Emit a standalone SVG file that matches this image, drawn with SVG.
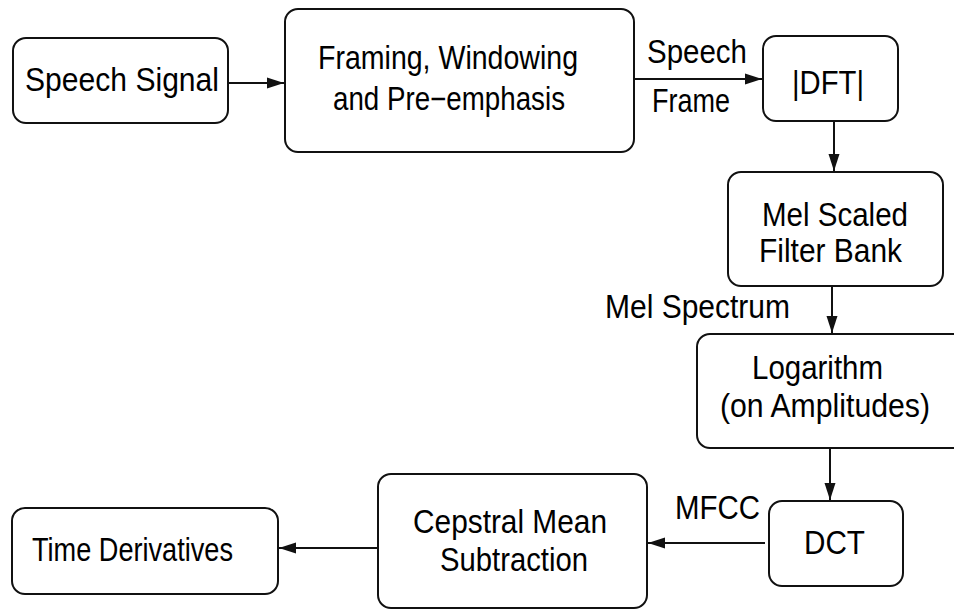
<svg xmlns="http://www.w3.org/2000/svg" width="954" height="612" viewBox="0 0 954 612">
  <style>
    .box { fill: #ffffff; stroke: #111111; stroke-width: 2; }
    .lbl { font-family: "Liberation Sans", Arial, Helvetica, sans-serif; font-size: 33px; fill: #000000; }
    .wire { fill: none; stroke: #111111; stroke-width: 2; }
  </style>
  <defs>
    <marker id="arrow" markerUnits="userSpaceOnUse" markerWidth="18" markerHeight="12" refX="17" refY="6" orient="auto">
      <path d="M0,0.5 L17,6 L0,11.5 Z" fill="#111111"/>
    </marker>
  </defs>
  <rect width="954" height="612" fill="#ffffff"/>

  <g id="speech-signal">
    <rect class="box" x="13" y="38" width="215" height="85" rx="13"/>
    <text class="lbl" x="25" y="91" textLength="194" lengthAdjust="spacingAndGlyphs">Speech Signal</text>
  </g>

  <g id="framing">
    <rect class="box" x="285" y="9" width="349" height="143" rx="13"/>
    <text class="lbl" x="318" y="69" textLength="260" lengthAdjust="spacingAndGlyphs">Framing, Windowing</text>
    <text class="lbl" x="333" y="110" textLength="232" lengthAdjust="spacingAndGlyphs">and Pre−emphasis</text>
  </g>

  <g id="dft">
    <rect class="box" x="763" y="36" width="135" height="85" rx="13"/>
    <text class="lbl" x="792" y="94" textLength="72" lengthAdjust="spacingAndGlyphs">|DFT|</text>
  </g>

  <g id="mel-filter-bank">
    <rect class="box" x="728" y="172" width="215" height="114" rx="13"/>
    <text class="lbl" x="762" y="226" textLength="146" lengthAdjust="spacingAndGlyphs">Mel Scaled</text>
    <text class="lbl" x="759" y="262" textLength="143" lengthAdjust="spacingAndGlyphs">Filter Bank</text>
  </g>

  <g id="logarithm">
    <rect class="box" x="697" y="334" width="280" height="114" rx="13"/>
    <text class="lbl" x="752" y="379" textLength="131" lengthAdjust="spacingAndGlyphs">Logarithm</text>
    <text class="lbl" x="720" y="417" textLength="210" lengthAdjust="spacingAndGlyphs">(on Amplitudes)</text>
  </g>

  <g id="dct">
    <rect class="box" x="769" y="501" width="134" height="85" rx="13"/>
    <text class="lbl" x="804" y="554" textLength="61" lengthAdjust="spacingAndGlyphs">DCT</text>
  </g>

  <g id="cepstral-mean-subtraction">
    <rect class="box" x="378" y="474" width="269" height="134" rx="13"/>
    <text class="lbl" x="413" y="533" textLength="194" lengthAdjust="spacingAndGlyphs">Cepstral Mean</text>
    <text class="lbl" x="440" y="571" textLength="148" lengthAdjust="spacingAndGlyphs">Subtraction</text>
  </g>

  <g id="time-derivatives">
    <rect class="box" x="12" y="508" width="266" height="86" rx="13"/>
    <text class="lbl" x="32" y="561" textLength="201" lengthAdjust="spacingAndGlyphs">Time Derivatives</text>
  </g>

  <g id="connectors">
    <line class="wire" x1="228" y1="83" x2="284" y2="83" marker-end="url(#arrow)"/>
    <line class="wire" x1="634" y1="79" x2="762" y2="79" marker-end="url(#arrow)"/>
    <line class="wire" x1="834" y1="121" x2="834" y2="171" marker-end="url(#arrow)"/>
    <line class="wire" x1="832" y1="286" x2="832" y2="333" marker-end="url(#arrow)"/>
    <line class="wire" x1="830" y1="448" x2="830" y2="500" marker-end="url(#arrow)"/>
    <line class="wire" x1="765" y1="543" x2="648" y2="543" marker-end="url(#arrow)"/>
    <line class="wire" x1="378" y1="548" x2="279" y2="548" marker-end="url(#arrow)"/>
    <text class="lbl" x="647" y="63" textLength="100" lengthAdjust="spacingAndGlyphs">Speech</text>
    <text class="lbl" x="652" y="112" textLength="78" lengthAdjust="spacingAndGlyphs">Frame</text>
    <text class="lbl" x="605" y="318" textLength="185" lengthAdjust="spacingAndGlyphs">Mel Spectrum</text>
    <text class="lbl" x="675" y="519" textLength="85" lengthAdjust="spacingAndGlyphs">MFCC</text>
  </g>
</svg>
